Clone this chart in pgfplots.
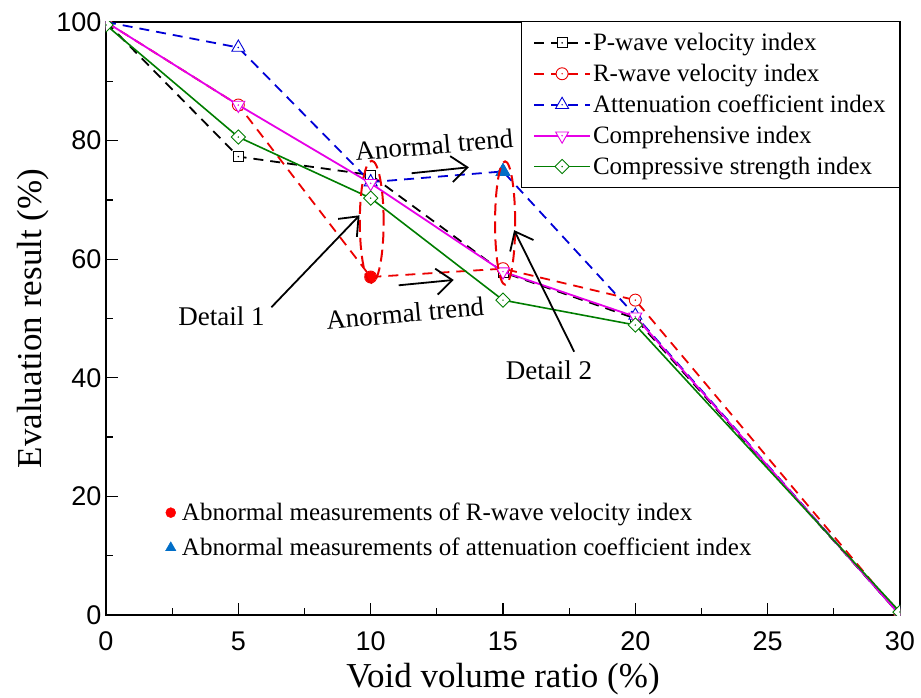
\documentclass[border=0pt]{standalone}
\usepackage{fontspec}
\setmainfont{Liberation Serif}
\newfontfamily\arialf{Liberation Sans}
\usepackage{pgfplots}
\pgfplotsset{compat=1.18}
\usetikzlibrary{arrows.meta}

\definecolor{cblack}{RGB}{0,0,0}
\definecolor{cred}{RGB}{235,0,0}
\definecolor{cblue}{RGB}{0,0,215}
\definecolor{cmag}{RGB}{230,0,230}
\definecolor{cgreen}{RGB}{0,125,0}
\definecolor{abblue}{RGB}{0,110,200}

\pgfdeclareplotmark{sqd}{%
  \pgfpathrectangle{\pgfqpoint{-\pgfplotmarksize}{-\pgfplotmarksize}}{\pgfqpoint{2\pgfplotmarksize}{2\pgfplotmarksize}}%
  \pgfusepathqfillstroke
  \pgfpathcircle{\pgfpointorigin}{0.2pt}\pgfusepathqstroke}
\pgfdeclareplotmark{cid}{%
  \pgfpathcircle{\pgfpointorigin}{\pgfplotmarksize}%
  \pgfusepathqfillstroke
  \pgfpathcircle{\pgfpointorigin}{0.2pt}\pgfusepathqstroke}
\pgfdeclareplotmark{tud}{%
  \pgfpathmoveto{\pgfqpointpolar{90}{1.25\pgfplotmarksize}}%
  \pgfpathlineto{\pgfqpointpolar{210}{1.25\pgfplotmarksize}}%
  \pgfpathlineto{\pgfqpointpolar{330}{1.25\pgfplotmarksize}}%
  \pgfpathclose\pgfusepathqfillstroke
  \pgfpathcircle{\pgfpointorigin}{0.2pt}\pgfusepathqstroke}
\pgfdeclareplotmark{tdd}{%
  \pgfpathmoveto{\pgfqpointpolar{270}{1.25\pgfplotmarksize}}%
  \pgfpathlineto{\pgfqpointpolar{30}{1.25\pgfplotmarksize}}%
  \pgfpathlineto{\pgfqpointpolar{150}{1.25\pgfplotmarksize}}%
  \pgfpathclose\pgfusepathqfillstroke
  \pgfpathcircle{\pgfpointorigin}{0.2pt}\pgfusepathqstroke}
\pgfdeclareplotmark{dmd}{%
  \pgfpathmoveto{\pgfqpoint{0pt}{1.3\pgfplotmarksize}}%
  \pgfpathlineto{\pgfqpoint{1.3\pgfplotmarksize}{0pt}}%
  \pgfpathlineto{\pgfqpoint{0pt}{-1.3\pgfplotmarksize}}%
  \pgfpathlineto{\pgfqpoint{-1.3\pgfplotmarksize}{0pt}}%
  \pgfpathclose\pgfusepathqfillstroke
  \pgfpathcircle{\pgfpointorigin}{0.2pt}\pgfusepathqstroke}

\begin{document}
\begin{tikzpicture}
\path[use as bounding box] (-106pt,-82pt) rectangle (815pt,615pt);
\begin{axis}[
  width=794pt, height=593pt, scale only axis,
  xmin=0, xmax=30, ymin=0, ymax=100,
  xtick={0,5,...,30}, ytick={0,20,...,100},
  minor x tick num=1, minor y tick num=1,
  tick align=inside, xtick pos=bottom, ytick pos=left,
  major tick length=12pt, minor tick length=7pt,
  tick style={black, line width=1.3pt},
  axis line style={line width=1.5pt},
  ticklabel style={font=\arialf\fontsize{27}{27}\selectfont},
  xticklabel style={yshift=-13pt},
  yticklabel style={xshift=-1pt},
  /pgf/number format/assume math mode=true,
  xlabel={Void volume ratio (\%)},
  ylabel={Evaluation result (\%)},
  label style={font=\fontsize{35}{35}\selectfont},
  xlabel style={at={(rel axis cs:0.5,0)}, anchor=center, yshift=-64pt},
  ylabel style={at={(rel axis cs:0,0.5)}, anchor=center, yshift=73pt},
  clip mode=individual, clip marker paths=true,
  legend style={at={(1,1)}, anchor=north east, draw=black, line width=1pt,
    font=\fontsize{25}{27}\selectfont, inner xsep=12pt, inner ysep=10pt,
    row sep=8pt, yshift=1pt},
  legend cell align=left,
  legend image code/.code={\draw[mark repeat=2,mark phase=2,#1] plot coordinates {(0pt,0pt) (28pt,0pt) (56pt,0pt)};},
  every axis plot/.append style={line width=1.8pt, mark options={solid, fill=white, line width=0.9pt}},
]
\addplot[cblack, dash pattern=on 10pt off 7pt, mark=sqd, mark size=5pt] coordinates {(0,100) (5,77.3) (10,74.2) (15,57.8) (20,50) (30,0)};
\addlegendentry{P-wave velocity index}
\addplot[cred, dash pattern=on 10pt off 7pt, mark=cid, mark size=6pt] coordinates {(0,100) (5,86) (10,57) (15,58.4) (20,53.1) (30,0)};
\addlegendentry{R-wave velocity index}
\addplot[cblue, dash pattern=on 10pt off 7pt, mark=tud, mark size=6pt] coordinates {(0,100) (5,95.7) (10,73) (15,74.8) (20,50.5) (30,0)};
\addlegendentry{Attenuation coefficient index}
\addplot[cmag, mark=tdd, mark size=6pt] coordinates {(0,100) (5,86) (10,72.8) (15,57.9) (20,50.3) (30,0)};
\addlegendentry{Comprehensive index}
\addplot[cgreen, line width=1.6pt, mark=dmd, mark size=5.5pt] coordinates {(0,99.5) (5,80.6) (10,70.3) (15,53.1) (20,48.9) (30,0.5)};
\addlegendentry{Compressive strength index}
% abnormal points
\addplot[only marks, forget plot, mark=*, mark size=5pt, red, mark options={fill=red, draw=red}] coordinates {(10,57)};
\addplot[only marks, forget plot, mark=triangle*, mark size=7pt, abblue, mark options={fill=abblue, draw=abblue}] coordinates {(15,74.8)};
% annotations
\draw[cred, line width=2pt, dash pattern=on 12pt off 6pt] (axis cs:10.04,66.3) ellipse [x radius=0.45, y radius=10.3];
\draw[cred, line width=2pt, dash pattern=on 12pt off 6pt] (axis cs:15.08,66.1) ellipse [x radius=0.38, y radius=10.4];
\draw[black, line width=1.8pt, -{Straight Barb[length=16pt,width=26pt,line width=1.8pt]}] (axis cs:11.55,74.5) -- (axis cs:13.71,75.5);
\draw[black, line width=1.8pt, -{Straight Barb[length=16pt,width=26pt,line width=1.8pt]}] (axis cs:11.06,55.6) -- (axis cs:13.14,56.5);
\draw[black, line width=1.8pt, -{Straight Barb[length=16pt,width=26pt,line width=1.8pt]}] (axis cs:6.25,51.9) -- (axis cs:9.58,67.4);
\draw[black, line width=1.8pt, -{Straight Barb[length=16pt,width=26pt,line width=1.8pt]}] (axis cs:17.69,44.4) -- (axis cs:15.42,64.9);
\node[font=\fontsize{27}{27}\selectfont, rotate=5] at (axis cs:12.4,79.3) {Anormal trend};
\node[font=\fontsize{27}{27}\selectfont, rotate=5] at (axis cs:11.3,50.9) {Anormal trend};
\node[font=\fontsize{27}{27}\selectfont] at (axis cs:4.36,50.3) {Detail 1};
\node[font=\fontsize{27}{27}\selectfont] at (axis cs:16.74,41.3) {Detail 2};
\end{axis}
\begin{axis}[
  width=794pt, height=593pt, scale only axis, hide axis,
  xmin=0, xmax=30, ymin=0, ymax=100,
  legend style={at={(rel axis cs:0.071,0.143)}, anchor=west, draw=none, fill=none,
    font=\fontsize{25}{27}\selectfont, row sep=12pt,
    nodes={inner xsep=6pt}},
  legend cell align=left,
]
\addlegendimage{only marks, mark=*, mark size=5pt, red}
\addlegendentry{Abnormal measurements of R-wave velocity index}
\addlegendimage{only marks, mark=triangle*, mark size=6pt, abblue}
\addlegendentry{Abnormal measurements of attenuation coefficient index}
\end{axis}
\end{tikzpicture}
\end{document}
